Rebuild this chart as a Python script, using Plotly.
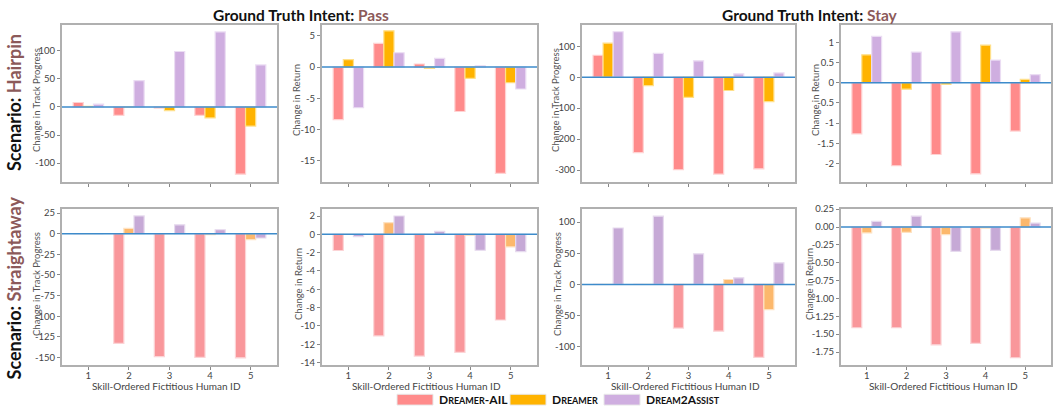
import plotly.graph_objects as go
from plotly.subplots import make_subplots

# Skill-ordered fictitious human IDs
human_ids = [1, 2, 3, 4, 5]

# Hairpin, intent Pass: change in track progress
hp_pass_prog_ail = [8, -15, -2, -15, -120]
hp_pass_prog_dreamer = [1.2, 0, -6.5, -19.5, -34]
hp_pass_prog_d2a = [5, 47, 99, 134, 75]

# Hairpin, intent Pass: change in return
hp_pass_ret_ail = [-8.4, 3.8, 0.5, -7.1, -17.0]
hp_pass_ret_dreamer = [1.2, 5.8, -0.2, -1.8, -2.5]
hp_pass_ret_d2a = [-6.5, 2.3, 1.4, 0.2, -3.5]

# Hairpin, intent Stay: change in track progress
hp_stay_prog_ail = [71, -244, -299, -313, -296]
hp_stay_prog_dreamer = [110, -27, -65, -43, -79]
hp_stay_prog_d2a = [147, 77, 53, 11, 14]

# Hairpin, intent Stay: change in return
hp_stay_ret_ail = [-1.27, -2.06, -1.78, -2.26, -1.20]
hp_stay_ret_dreamer = [0.69, -0.16, -0.04, 0.93, 0.08]
hp_stay_ret_d2a = [1.15, 0.76, 1.26, 0.56, 0.20]

# Straightaway, intent Pass: change in track progress
st_pass_prog_ail = [0, -133, -149, -150, -150.4]
st_pass_prog_dreamer = [0, 6.4, 0, -1.2, -7.2]
st_pass_prog_d2a = [0, 21.6, 10.8, 4.8, -5.2]

# Straightaway, intent Pass: change in return
st_pass_ret_ail = [-1.77, -11.1, -13.3, -12.9, -9.36]
st_pass_ret_dreamer = [0, 1.28, 0, -0.1, -1.38]
st_pass_ret_d2a = [-0.25, 2.0, 0.32, -1.74, -1.9]

# Straightaway, intent Stay: change in track progress
st_stay_prog_ail = [0, 0, -70, -75, -117]
st_stay_prog_dreamer = [0, 0, 0, 7.9, -40.5]
st_stay_prog_d2a = [90.5, 109.5, 49, 10.5, 34.7]

# Straightaway, intent Stay: change in return
st_stay_ret_ail = [-1.41, -1.41, -1.65, -1.63, -1.83]
st_stay_ret_dreamer = [-0.083, -0.074, -0.106, -0.014, 0.129]
st_stay_ret_d2a = [0.078, 0.152, -0.34, -0.326, 0.055]

# Series names and y tick labels
series_names = ["Dreamer-AIL", "Dreamer", "Dream2Assist"]
ticks_p1 = [-100, -50, 0, 50, 100]
ticks_p2 = [-15, -10, -5, 0, 5]
ticks_p3 = [-300, -200, -100, 0, 100]
ticks_p4 = [-2, -1.5, -1, -0.5, 0, 0.5, 1]
ticks_p5 = [-150, -125, -100, -75, -50, -25, 0, 25]
ticks_p6 = [-14, -12, -10, -8, -6, -4, -2, 0, 2]
ticks_p7 = [-100, -50, 0, 50, 100]
ticks_p8 = [-1.75, -1.5, -1.25, -1.0, -0.75, -0.5, -0.25, 0.0, 0.25]
x_title = "Skill-Ordered Fictitious Human ID"

FONT = "Lato"
top_colors = ["#FF8B8B", "#FFB300", "#CFAEE0"]
top_edges = ["#FFD3D3", "#FFE08A", "#EBDDF3"]
bot_colors = ["#F9979B", "#FCB86C", "#C6A9D6"]
bot_edges = ["#FCD4D6", "#FEE2C2", "#E6DAEE"]

panels = [
    (1, 1, [hp_pass_prog_ail, hp_pass_prog_dreamer, hp_pass_prog_d2a], ticks_p1, [-133, 147], "Change in Track Progress", "{:g}", 36),
    (1, 2, [hp_pass_ret_ail, hp_pass_ret_dreamer, hp_pass_ret_d2a], ticks_p2, [-18.3, 6.8], "Change in Return", "{:g}", 296),
    (1, 3, [hp_stay_prog_ail, hp_stay_prog_dreamer, hp_stay_prog_d2a], ticks_p3, [-337, 170], "Change in Track Progress", "{:g}", 555),
    (1, 4, [hp_stay_ret_ail, hp_stay_ret_dreamer, hp_stay_ret_d2a], ticks_p4, [-2.45, 1.44], "Change in Return", "{:g}", 815),
    (2, 1, [st_pass_prog_ail, st_pass_prog_dreamer, st_pass_prog_d2a], ticks_p5, [-159, 30], "Change in Track Progress", "{:g}", 37),
    (2, 2, [st_pass_ret_ail, st_pass_ret_dreamer, st_pass_ret_d2a], ticks_p6, [-14.26, 2.77], "Change in Return", "{:g}", 299),
    (2, 3, [st_stay_prog_ail, st_stay_prog_dreamer, st_stay_prog_d2a], ticks_p7, [-129, 121], "Change in Track Progress", "{:g}", 558),
    (2, 4, [st_stay_ret_ail, st_stay_ret_dreamer, st_stay_ret_d2a], ticks_p8, [-1.93, 0.253], "Change in Return", "{:.2f}", 810),
]

W, H = 1053, 412
x_px = [(62, 277), (322, 537), (582, 795), (841, 1051)]
y_px = [(20, 180), (208, 367)]

fig = make_subplots(rows=2, cols=4)
annotations = []

for row, col, series, ticks, yrange, ytitle, fmt, title_x in panels:
    colors = top_colors if row == 1 else bot_colors
    edges = top_edges if row == 1 else bot_edges
    for name, vals, c, e in zip(series_names, series, colors, edges):
        fig.add_trace(
            go.Bar(x=human_ids, y=vals, name=name, marker=dict(color=c, line=dict(color=e, width=1.2)),
                   showlegend=False),
            row=row, col=col,
        )
    x0, x1 = x_px[col - 1]
    y0, y1 = y_px[row - 1]
    fig.update_xaxes(
        domain=[x0 / W, x1 / W], range=[0.35, 5.65], tickvals=human_ids,
        showticklabels=(row == 2), ticks="outside", ticklen=3, tickcolor="#888",
        ticklabelstandoff=-2,
        showline=True, mirror=True, linecolor="#B0B0B0", linewidth=2,
        showgrid=False, zeroline=False,
        tickfont=dict(family=FONT, size=9.5, color="#444"),
        row=row, col=col,
    )
    fig.update_yaxes(
        domain=[1 - y1 / H, 1 - y0 / H], range=yrange, tickvals=ticks,
        ticktext=[fmt.format(t).replace("−", "-") for t in ticks],
        ticks="outside", ticklen=3, tickcolor="#888",
        showline=True, mirror=True, linecolor="#B0B0B0", linewidth=2,
        showgrid=False, zeroline=False,
        tickfont=dict(family=FONT, size=9.5, color="#444"),
        row=row, col=col,
    )
    idx = (row - 1) * 4 + col
    suffix = "" if idx == 1 else str(idx)
    # zero reference line drawn over the bars
    fig.add_shape(type="line", xref=f"x{suffix} domain", yref=f"y{suffix}",
                  x0=0, x1=1, y0=0, y1=0, line=dict(color="#3D8BCB", width=1.5), layer="above")
    # axis titles
    annotations.append(dict(
        text=ytitle, x=title_x / W, y=1 - ((y0 + y1) / 2 - 3) / H, xref="paper", yref="paper",
        showarrow=False, textangle=-90, xanchor="center", yanchor="middle",
        font=dict(family=FONT, size=9.5, color="#555"),
    ))
    if row == 2:
        annotations.append(dict(
            text=x_title, x=((x0 + x1) / 2 - 3) / W, y=1 - 389 / H, xref="paper", yref="paper",
            showarrow=False, xanchor="center", yanchor="middle",
            font=dict(family=FONT, size=10, color="#444"),
        ))

accent = "#8C5A5A"
for text, xc in [("Pass", 301), ("Stay", 810)]:
    annotations.append(dict(
        text=f"<b>Ground Truth Intent: <span style='color:{accent}'>{text}</span></b>",
        x=xc / W, y=1 - 10 / H, xref="paper", yref="paper", showarrow=False,
        xanchor="center", yanchor="middle", font=dict(family=FONT, size=15.5, color="#111"),
    ))
for text, yc in [("Hairpin", 100), ("Straightaway", 289)]:
    annotations.append(dict(
        text=f"<b>Scenario: <span style='color:{accent}'>{text}</span></b>",
        x=14 / W, y=1 - yc / H, xref="paper", yref="paper", showarrow=False, textangle=-90,
        xanchor="center", yanchor="middle", font=dict(family=FONT, size=18, color="#111"),
    ))

# Legend drawn as swatches with small-caps labels
legend_items = [
    ("D<span style='font-size:9px'>REAMER</span>-AIL", top_colors[0], 397),
    ("D<span style='font-size:9px'>REAMER</span>", top_colors[1], 510),
    ("D<span style='font-size:9px'>REAM</span>2A<span style='font-size:9px'>SSIST</span>", top_colors[2], 604),
]
for label, color, px in legend_items:
    fig.add_shape(type="rect", xref="paper", yref="paper",
                  x0=px / W, x1=(px + 36) / W, y0=1 - 408 / H, y1=1 - 397 / H,
                  fillcolor=color, line=dict(color="#E8E8E8", width=1))
    annotations.append(dict(
        text=f"<b>{label}</b>", x=(px + 40) / W, y=1 - 402.5 / H, xref="paper", yref="paper",
        showarrow=False, xanchor="left", yanchor="middle",
        font=dict(family=FONT, size=12, color="#111"),
    ))

fig.update_layout(
    width=W, height=H, margin=dict(l=0, r=0, t=0, b=0),
    paper_bgcolor="white", plot_bgcolor="white",
    barmode="group", bargap=0.25, bargroupgap=0,
    showlegend=False, annotations=annotations,
    font=dict(family=FONT),
)

fig.write_html("out.html")
